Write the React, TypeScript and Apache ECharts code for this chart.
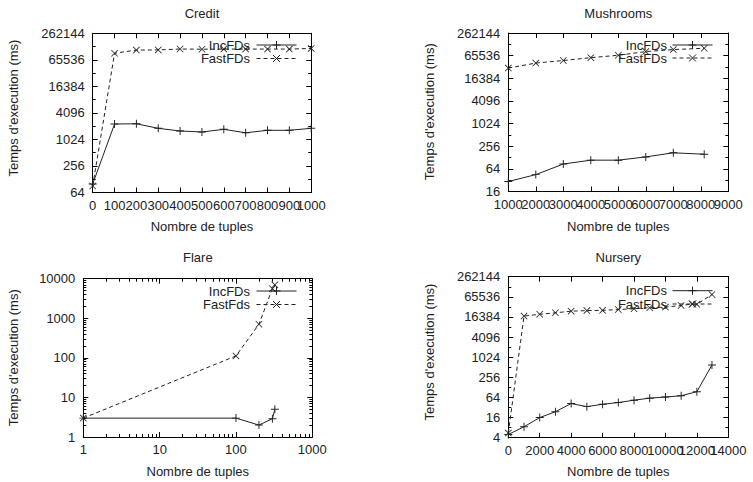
import React, { useEffect, useRef } from "react";
import * as echarts from "echarts";

const FONT = "'Liberation Sans', Arial, Helvetica, sans-serif";
const INK = "#222";

// Credit
const creditX = [0, 100, 200, 300, 400, 500, 600, 700, 800, 900, 1000];
const creditInc = [100, 2290, 2320, 1830, 1590, 1510, 1735, 1450, 1650, 1650, 1830];
const creditFast = [90, 92500, 109000, 110000, 115500, 114000, 115000, 115000, 115000, 115000, 119000];

// Mushrooms
const mushX = [1000, 2000, 3000, 4000, 5000, 6000, 7000, 8124];
const mushInc = [29.5, 45, 86, 109, 109, 133, 171, 157];
const mushFast = [30600, 41600, 48600, 58000, 67000, 84000, 95000, 103000];

// Flare
const flareX = [1, 100, 200, 300, 323];
const flareInc = [3, 3, 2, 2.9, 5];
const flareFast = [3, 112, 705, 5600, 7000];

// Nursery
const nurIncX = [0, 1000, 2000, 3000, 4000, 5000, 6000, 7000, 8000, 9000, 10000, 11000, 12000, 12960];
const nurInc = [5, 8.5, 16, 24, 42, 34, 40, 45, 53, 61, 66, 72, 95, 600];
const nurFastX = [0, 1000, 2000, 3000, 4000, 5000, 6000, 7000, 8000, 9000, 10000, 11000, 11700, 12000, 12960];
const nurFast = [5.5, 17400, 19700, 21800, 24400, 25400, 25800, 27300, 28900, 31000, 32300, 36000, 40000, 39000, 77000];

const PLUS = "path://M4.4,0H5.6V4.4H10V5.6H5.6V10H4.4V5.6H0V4.4H4.4Z";
const CROSS =
  "path://M0.8,0L5,4.2L9.2,0L10,0.8L5.8,5L10,9.2L9.2,10L5,5.8L0.8,10L0,9.2L4.2,5L0,0.8Z";

const grids = [
  { left: 92.7, top: 33.3, width: 218.5, height: 159.2 },
  { left: 508.3, top: 33, width: 220, height: 158.5 },
  { left: 83.3, top: 278.7, width: 229, height: 158.3 },
  { left: 508.3, top: 276.7, width: 220, height: 161 },
];

type LineSpec = { xs: number[]; ys: number[]; dashed: boolean; name: string };
type Spec = {
  xLog: boolean;
  xMin: number;
  xMax: number;
  xInterval?: number;
  yBase: number;
  yMin: number;
  yMax: number;
  lines: LineSpec[];
};

const specs: Spec[] = [
  {
    xLog: false, xMin: 0, xMax: 1000, xInterval: 100, yBase: 4, yMin: 64, yMax: 262144,
    lines: [
      { xs: creditX, ys: creditInc, dashed: false, name: "IncFDs" },
      { xs: creditX, ys: creditFast, dashed: true, name: "FastFDs" },
    ],
  },
  {
    xLog: false, xMin: 1000, xMax: 9000, xInterval: 1000, yBase: 4, yMin: 16, yMax: 262144,
    lines: [
      { xs: mushX, ys: mushInc, dashed: false, name: "IncFDs" },
      { xs: mushX, ys: mushFast, dashed: true, name: "FastFDs" },
    ],
  },
  {
    xLog: true, xMin: 1, xMax: 1000, yBase: 10, yMin: 1, yMax: 10000,
    lines: [
      { xs: flareX, ys: flareInc, dashed: false, name: "IncFDs" },
      { xs: flareX, ys: flareFast, dashed: true, name: "FastFds" },
    ],
  },
  {
    xLog: false, xMin: 0, xMax: 14000, xInterval: 2000, yBase: 4, yMin: 4, yMax: 262144,
    lines: [
      { xs: nurIncX, ys: nurInc, dashed: false, name: "IncFDs" },
      { xs: nurFastX, ys: nurFast, dashed: true, name: "FastFDs" },
    ],
  },
];

const titles = [
  { text: "Credit", x: 202, y: 13.3 },
  { text: "Mushrooms", x: 618.3, y: 13.3 },
  { text: "Flare", x: 197.8, y: 257 },
  { text: "Nursery", x: 618.3, y: 257.7 },
];
const xNames = [
  { x: 202, y: 226 },
  { x: 618.3, y: 226 },
  { x: 197.8, y: 471 },
  { x: 618.3, y: 471 },
];
const yNames = [
  { x: 13.3, y: 108 },
  { x: 429.3, y: 111.7 },
  { x: 13.3, y: 357.7 },
  { x: 429.3, y: 352 },
];
const legends = [
  { textRight: 250, l0: 256.5, l1: 296.5, y1: 45, y2: 58.5 },
  { textRight: 667, l0: 672.5, l1: 712.5, y1: 45, y2: 58 },
  { textRight: 250, l0: 256.5, l1: 296.5, y1: 291, y2: 304.5 },
  { textRight: 667, l0: 672.5, l1: 712.5, y1: 290.7, y2: 304 },
];

const fmt = (v: number) => String(Math.round(v));
const lineSt = { color: "#000", width: 1 };
const labelBase = {
  show: true,
  fontSize: 13,
  fontFamily: FONT,
  color: INK,
  showMinLabel: true,
  showMaxLabel: true,
  hideOverlap: false,
};

function buildOption() {
  const xAxis: any[] = [];
  const yAxis: any[] = [];
  const series: any[] = [];
  specs.forEach((s, gi) => {
    const xi = xAxis.length;
    const xBase: any = s.xLog
      ? {
          type: "log", logBase: 10, min: s.xMin, max: s.xMax,
          minorTick: { show: true, splitNumber: 9, length: 3, lineStyle: lineSt },
        }
      : { type: "value", min: s.xMin, max: s.xMax, interval: s.xInterval };
    const common = {
      gridIndex: gi,
      axisLine: { show: true, onZero: false, lineStyle: lineSt },
      axisTick: { show: true, inside: true, length: 5, lineStyle: lineSt },
      splitLine: { show: false },
      minorSplitLine: { show: false },
    };
    const parity = (v: number) =>
      s.xInterval ? Math.round((v - s.xMin) / s.xInterval) % 2 : 0;
    xAxis.push({
      ...xBase, ...common, position: "bottom",
      axisLabel: {
        ...labelBase, margin: 6,
        formatter: (v: number) => (parity(v) === 0 ? fmt(v) : ""),
      },
    });
    xAxis.push({ ...xBase, ...common, position: "top", axisLabel: { show: false } });
    if (s.xInterval) {
      // second label row (odd ticks) so that ECharts does not drop overlapping labels
      xAxis.push({
        ...xBase, gridIndex: gi, position: "bottom",
        axisLine: { show: false, onZero: false },
        axisTick: { show: false },
        splitLine: { show: false },
        axisLabel: {
          ...labelBase, margin: 6,
          formatter: (v: number) => (parity(v) === 1 ? fmt(v) : ""),
        },
      });
    }

    const yi = yAxis.length;
    const yBase: any = {
      type: "log", logBase: s.yBase, min: s.yMin, max: s.yMax,
      ...(s.yBase === 10
        ? { minorTick: { show: true, splitNumber: 9, length: 3, lineStyle: lineSt } }
        : {}),
    };
    yAxis.push({
      ...yBase, ...common, position: "left",
      axisLabel: { ...labelBase, margin: 8, formatter: fmt },
    });
    yAxis.push({ ...yBase, ...common, position: "right", axisLabel: { show: false } });
    if (s.yBase === 4) {
      // half-step (x2) minor ticks
      ["left", "right"].forEach((pos) => {
        yAxis.push({
          type: "log", logBase: 4, min: s.yMin * 2, max: s.yMax * 2,
          gridIndex: gi, position: pos,
          axisLine: { show: false, onZero: false },
          axisTick: { show: true, inside: true, length: 3, lineStyle: lineSt },
          axisLabel: { show: false },
          splitLine: { show: false },
        });
      });
    }
    s.lines.forEach((l) => {
      series.push({
        type: "line",
        name: l.name,
        xAxisIndex: xi,
        yAxisIndex: yi,
        data: l.xs.map((x, i) => [x, l.ys[i]]),
        symbol: l.dashed ? CROSS : PLUS,
        symbolSize: l.dashed ? 7 : 8,
        showSymbol: true,
        lineStyle: { color: INK, width: 1, type: l.dashed ? [4, 3] : "solid" },
        itemStyle: { color: INK },
        silent: true,
      });
    });
  });

  const graphic: any[] = [];
  const txt = (text: string, x: number, y: number, align: string, rotation = 0) => ({
    type: "text", x, y, rotation,
    style: { text, font: `13px ${FONT}`, fill: INK, align, verticalAlign: "middle" },
  });
  titles.forEach((t) => graphic.push(txt(t.text, t.x, t.y, "center")));
  xNames.forEach((t) => graphic.push(txt("Nombre de tuples", t.x, t.y, "center")));
  yNames.forEach((t) => graphic.push(txt("Temps d'execution (ms)", t.x, t.y, "center", Math.PI / 2)));
  legends.forEach((lg, i) => {
    const names = specs[i].lines.map((l) => l.name);
    const mid = (lg.l0 + lg.l1) / 2;
    const st = { stroke: INK, lineWidth: 1 };
    graphic.push(txt(names[0], lg.textRight, lg.y1, "right"));
    graphic.push(txt(names[1], lg.textRight, lg.y2, "right"));
    graphic.push({ type: "line", shape: { x1: lg.l0, y1: lg.y1, x2: lg.l1, y2: lg.y1 }, style: st });
    graphic.push({ type: "line", shape: { x1: mid - 4, y1: lg.y1, x2: mid + 4, y2: lg.y1 }, style: st });
    graphic.push({ type: "line", shape: { x1: mid, y1: lg.y1 - 4, x2: mid, y2: lg.y1 + 4 }, style: st });
    graphic.push({
      type: "line", shape: { x1: lg.l0, y1: lg.y2, x2: lg.l1, y2: lg.y2 },
      style: { ...st, lineDash: [4, 3] },
    });
    graphic.push({ type: "line", shape: { x1: mid - 3.5, y1: lg.y2 - 3.5, x2: mid + 3.5, y2: lg.y2 + 3.5 }, style: st });
    graphic.push({ type: "line", shape: { x1: mid - 3.5, y1: lg.y2 + 3.5, x2: mid + 3.5, y2: lg.y2 - 3.5 }, style: st });
  });

  return {
    animation: false,
    backgroundColor: "#fff",
    grid: grids.map((g) => ({ ...g, containLabel: false })),
    xAxis,
    yAxis,
    series,
    graphic,
  };
}

export default function App() {
  const ref = useRef<HTMLDivElement>(null);
  useEffect(() => {
    const chart = echarts.init(ref.current!, null, { renderer: "svg" });
    chart.setOption(buildOption() as any);
    return () => chart.dispose();
  }, []);
  return (
    <div
      ref={ref}
      style={{ position: "absolute", left: 0, top: 0, width: 753, height: 482 }}
    />
  );
}
